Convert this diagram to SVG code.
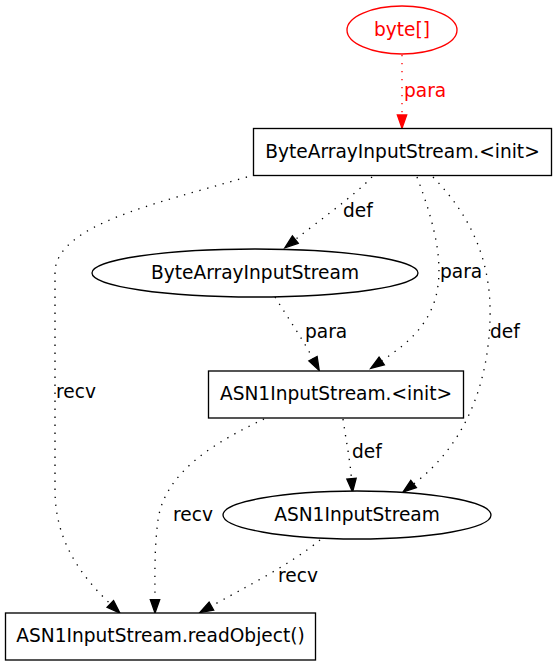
<svg xmlns="http://www.w3.org/2000/svg" width="557" height="667" viewBox="0 0 557 667">
<style>
text{font-family:"DejaVu Sans",sans-serif;font-size:18.6px;fill:#000}
.nt{text-anchor:middle}
.node{fill:#fff;stroke:#000;stroke-width:1.33}
.edge{fill:none;stroke:#000;stroke-width:1.33;stroke-dasharray:1.33,6.67}
.red{stroke:#f00}
.rt{fill:#f00}
</style>
<defs>
<marker id="ah" markerUnits="userSpaceOnUse" markerWidth="16" markerHeight="12" refX="0" refY="5" orient="auto" viewBox="0 0 16 10" overflow="visible">
<path d="M0,0.33 L13.3,5 L0,9.67 Z" fill="#000" stroke="#000" stroke-width="1.33"/>
</marker>
<marker id="ahr" markerUnits="userSpaceOnUse" markerWidth="16" markerHeight="12" refX="0" refY="5" orient="auto" viewBox="0 0 16 10" overflow="visible">
<path d="M0,0.33 L13.3,5 L0,9.67 Z" fill="#f00" stroke="#f00" stroke-width="1.33"/>
</marker>
</defs>
<rect width="557" height="667" fill="#fff"/>
<g id="edges">
<path class="edge red" d="M402,55 L402,115" marker-end="url(#ahr)"/>
<text class="rt" x="404" y="97">para</text>
<path class="edge" d="M372,177 C355,195 320,220 295.3,239.6" marker-end="url(#ah)"/>
<text x="343" y="217">def</text>
<path class="edge" d="M417,177 C435,225 445,265 435,300 C425,330 405,345 381.7,360.9" marker-end="url(#ah)"/>
<text x="440" y="278">para</text>
<path class="edge" d="M433,177 C470,215 492,260 490,320 C488,385 465,445 413.6,484" marker-end="url(#ah)"/>
<text x="490" y="338">def</text>
<path class="edge" d="M247,177 C150,205 60,225 55,270 L55,490 C55,540 80,575 110.3,603.9" marker-end="url(#ah)"/>
<text x="56" y="398">recv</text>
<path class="edge" d="M275,297 C288,318 302,338 313,358.7" marker-end="url(#ah)"/>
<text x="305" y="338">para</text>
<path class="edge" d="M343,419 C346,440 350,460 351.5,478.7" marker-end="url(#ah)"/>
<text x="352" y="458">def</text>
<path class="edge" d="M264,419 C220,440 165,470 158,520 C154,550 155,580 155,599.7" marker-end="url(#ah)"/>
<text x="173" y="521">recv</text>
<path class="edge" d="M320,540 C290,565 240,590 211.4,606.1" marker-end="url(#ah)"/>
<text x="278" y="582">recv</text>
</g>
<g id="node-byte">
<ellipse class="node red" cx="402" cy="30" rx="55" ry="24"/>
<text class="nt rt" x="402" y="36">byte[]</text>
</g>
<g id="node-bais-init">
<rect class="node" x="253.5" y="128.5" width="298" height="47"/>
<text class="nt" x="402.5" y="158">ByteArrayInputStream.&lt;init&gt;</text>
</g>
<g id="node-bais">
<ellipse class="node" cx="255" cy="273" rx="163" ry="24"/>
<text class="nt" x="255" y="279">ByteArrayInputStream</text>
</g>
<g id="node-asn1-init">
<rect class="node" x="208.5" y="371" width="255" height="47"/>
<text class="nt" x="336" y="400">ASN1InputStream.&lt;init&gt;</text>
</g>
<g id="node-asn1">
<ellipse class="node" cx="357" cy="515" rx="134" ry="24"/>
<text class="nt" x="357" y="521">ASN1InputStream</text>
</g>
<g id="node-readobject">
<rect class="node" x="5.5" y="613" width="310" height="47"/>
<text class="nt" x="160.5" y="642">ASN1InputStream.readObject()</text>
</g>
</svg>
